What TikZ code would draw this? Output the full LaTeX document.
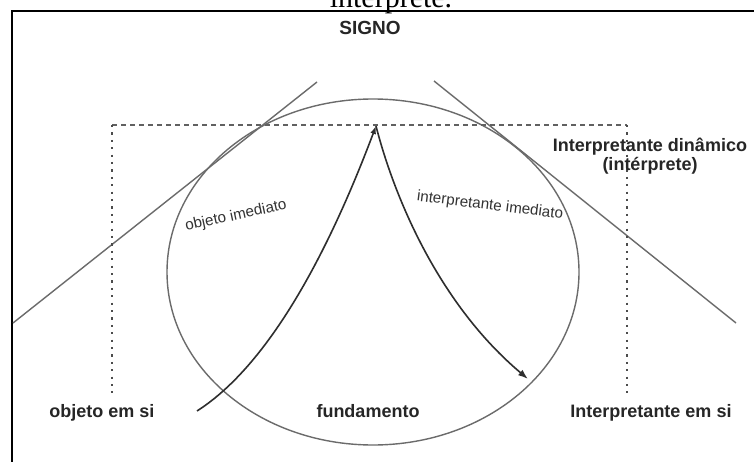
\documentclass[tikz,border=0pt]{standalone}
\usepackage{fontspec}
\setmainfont{Liberation Sans}
\newfontfamily\captionserif{Liberation Serif}
\usetikzlibrary{arrows.meta}
\begin{document}
\begin{tikzpicture}[x=1pt,y=-1pt,
  contour/.style={draw=black!58, line width=1.4pt},
  guide/.style={draw=black!62, line width=1.7pt, dash pattern=on 5pt off 4pt},
  dotguide/.style={draw=black!70, line width=2.2pt, dash pattern=on 2.2pt off 5.2pt},
  flow/.style={draw=black!82, line width=1.6pt},
  boldlabel/.style={font=\fontsize{18}{20}\selectfont\bfseries, text=black!85, inner sep=0pt, anchor=base},
  thinlabel/.style={font=\fontsize{15.2}{17}\selectfont, text=black!80, inner sep=0pt}]
\useasboundingbox (0,0) rectangle (754,462);
\fill[white] (0,0) rectangle (754,462);

% caption line running above the figure frame
\begin{scope}
  \clip (0,0) rectangle (754,462);
  \node[font=\captionserif\fontsize{30}{32}\selectfont, anchor=base, inner sep=0pt] (caption) at (391,8) {intérprete.};
\end{scope}

% figure frame
\draw[line width=2pt] (12,462) -- (12,11) -- (754,11);

% key points
\coordinate (apex) at (376,126);
\coordinate (dl) at (112,125);
\coordinate (dr) at (627,125);
\coordinate (dlb) at (112,393);
\coordinate (drb) at (627,393);
\coordinate (ol) at (13,323);
\coordinate (ou) at (317,82);
\coordinate (iu) at (434,81);
\coordinate (il) at (736,323);
\coordinate (oistart) at (197,411);
\coordinate (iiend) at (528,379);

% the sign as an ellipse
\draw[contour] (373,272) ellipse [x radius=206, y radius=173];

% tangent lines of object and interpretant
\draw[contour] (ol) -- (ou);
\draw[contour] (iu) -- (il);

% dashed frame from object to interpretant
\draw[guide] (dl) -- (dr);
\draw[dotguide] (dl) -- (dlb);
\draw[dotguide] (dr) -- (drb);

% immediate object and immediate interpretant
\draw[flow, -{Latex[length=8pt,width=6pt]}] (oistart) .. controls (258,372) and (318,280) .. (apex);
\draw[flow, -{Latex[length=10pt,width=7pt]}] (apex) .. controls (395,200) and (440,305) .. (iiend);

% labels
\node[boldlabel, font=\fontsize{19}{21}\selectfont\bfseries] (signo) at (370,35) {SIGNO};
\node[boldlabel] (din1) at (650,152) {Interpretante dinâmico};
\node[boldlabel] (din2) at (650,171) {(intérprete)};
\node[boldlabel] (objsi) at (102,417) {objeto em si};
\node[boldlabel] (fund) at (368,417) {fundamento};
\node[boldlabel] (intsi) at (651,417) {Interpretante em si};
\node[thinlabel, rotate=12] (objim) at (236,216) {objeto imediato};
\node[thinlabel, rotate=-7] (intim) at (490,206) {interpretante imediato};
\end{tikzpicture}
\end{document}
